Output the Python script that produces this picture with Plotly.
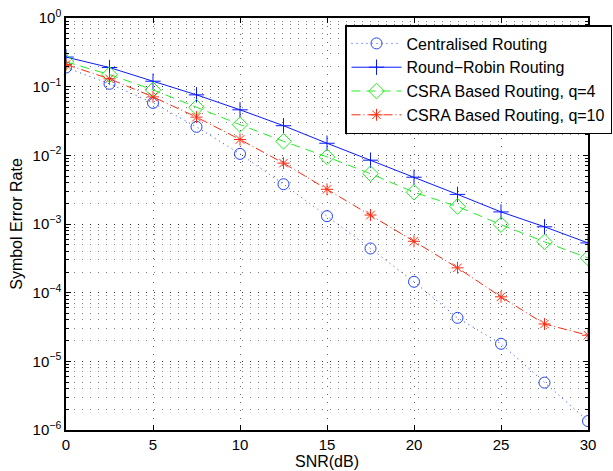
import plotly.graph_objects as go

snr = [0, 2.5, 5, 7.5, 10, 12.5, 15, 17.5, 20, 22.5, 25, 27.5, 30]
centralised = [0.19, 0.11, 0.058, 0.026, 0.0105, 0.0038, 0.0013, 0.00044, 1.44e-4, 4.3e-5, 1.8e-5, 4.9e-6, 1.35e-6]
round_robin = [0.27, 0.19, 0.12, 0.076, 0.046, 0.027, 0.015, 0.0085, 0.0048, 0.0027, 0.0015, 0.00091, 0.00053]
csra_q4 = [0.23, 0.15, 0.09, 0.050, 0.028, 0.016, 0.0095, 0.0054, 0.0029, 0.0018, 0.00098, 0.00055, 0.00032]
csra_q10 = [0.21, 0.13, 0.071, 0.036, 0.017, 0.0077, 0.0032, 0.00135, 5.6e-4, 2.3e-4, 8.7e-5, 3.5e-5, 2.4e-5]

series_names = ["Centralised Routing", "Round\u2212Robin Routing", "CSRA Based Routing, q=4", "CSRA Based Routing, q=10"]
ytick_vals = [1, 1e-1, 1e-2, 1e-3, 1e-4, 1e-5, 1e-6]
ytick_text = ["10<sup>0</sup>", "10<sup>\u22121</sup>", "10<sup>\u22122</sup>", "10<sup>\u22123</sup>",
              "10<sup>\u22124</sup>", "10<sup>\u22125</sup>", "10<sup>\u22126</sup>"]
xtick_vals = [0, 5, 10, 15, 20, 25, 30]

FONT = "Liberation Sans, Arial, sans-serif"

fig = go.Figure()
fig.add_trace(go.Scatter(x=snr, y=centralised, name=series_names[0], mode="lines+markers",
                         line=dict(color="#2244ff", width=1, dash="1px,4px"),
                         marker=dict(symbol="circle-open", size=11, color="#2244ff", line=dict(width=1))))
fig.add_trace(go.Scatter(x=snr, y=round_robin, name=series_names[1], mode="lines+markers",
                         line=dict(color="#0a1aff", width=1, dash="solid"),
                         marker=dict(symbol="cross-thin-open", size=11, color="#0a1aff", line=dict(width=1, color="#0a1aff"))))
fig.add_trace(go.Scatter(x=snr, y=csra_q4, name=series_names[2], mode="lines+markers",
                         line=dict(color="#22ee22", width=1, dash="9px,6px"),
                         marker=dict(symbol="diamond-open", size=12, color="#22ee22", line=dict(width=1))))
fig.add_trace(go.Scatter(x=snr, y=csra_q10, name=series_names[3], mode="lines+markers",
                         line=dict(color="#ff2a10", width=1, dash="9px,3px,1px,3px"),
                         marker=dict(symbol="asterisk-open", size=10, color="#ff2a10", line=dict(width=1, color="#ff2a10"))))

axis_common = dict(showline=True, linecolor="black", linewidth=1.5, mirror="allticks",
                   ticks="inside", ticklen=5, tickcolor="black", automargin=False,
                   showgrid=True, gridcolor="rgba(0,0,0,0.6)", griddash="1px,7px", gridwidth=1,
                   zeroline=False, tickfont=dict(family=FONT, size=15, color="black"))

fig.update_xaxes(range=[0, 30], tickvals=xtick_vals,
                 title=dict(text="SNR(dB)", standoff=2, font=dict(family=FONT, size=16, color="black")),
                 **axis_common)
fig.update_yaxes(type="log", range=[-6, 0], tickvals=ytick_vals, ticktext=ytick_text,
                 title=dict(text="Symbol Error Rate", standoff=6, font=dict(family=FONT, size=16, color="black")),
                 minor=dict(showgrid=True, gridcolor="rgba(0,0,0,0.5)", griddash="1px,7px", ticks="inside",
                            ticklen=3, tickcolor="black", dtick="D1"),
                 **axis_common)

fig.update_layout(
    width=613, height=471,
    margin=dict(l=66, r=25, t=18, b=41, autoexpand=False),
    paper_bgcolor="white", plot_bgcolor="white",
    font=dict(family=FONT, size=13, color="black"),
    legend=dict(x=1.046, y=0.983, xanchor="right", yanchor="top",
                bgcolor="white", bordercolor="black", borderwidth=1.5,
                font=dict(size=16), tracegroupgap=0, itemwidth=50),
    showlegend=True,
)

# remove the default 8px body margin so the figure fills the window exactly
fig.write_html("out.html", config={"displayModeBar": False},
               post_script="document.body.style.margin='0';document.body.style.overflow='hidden';")
